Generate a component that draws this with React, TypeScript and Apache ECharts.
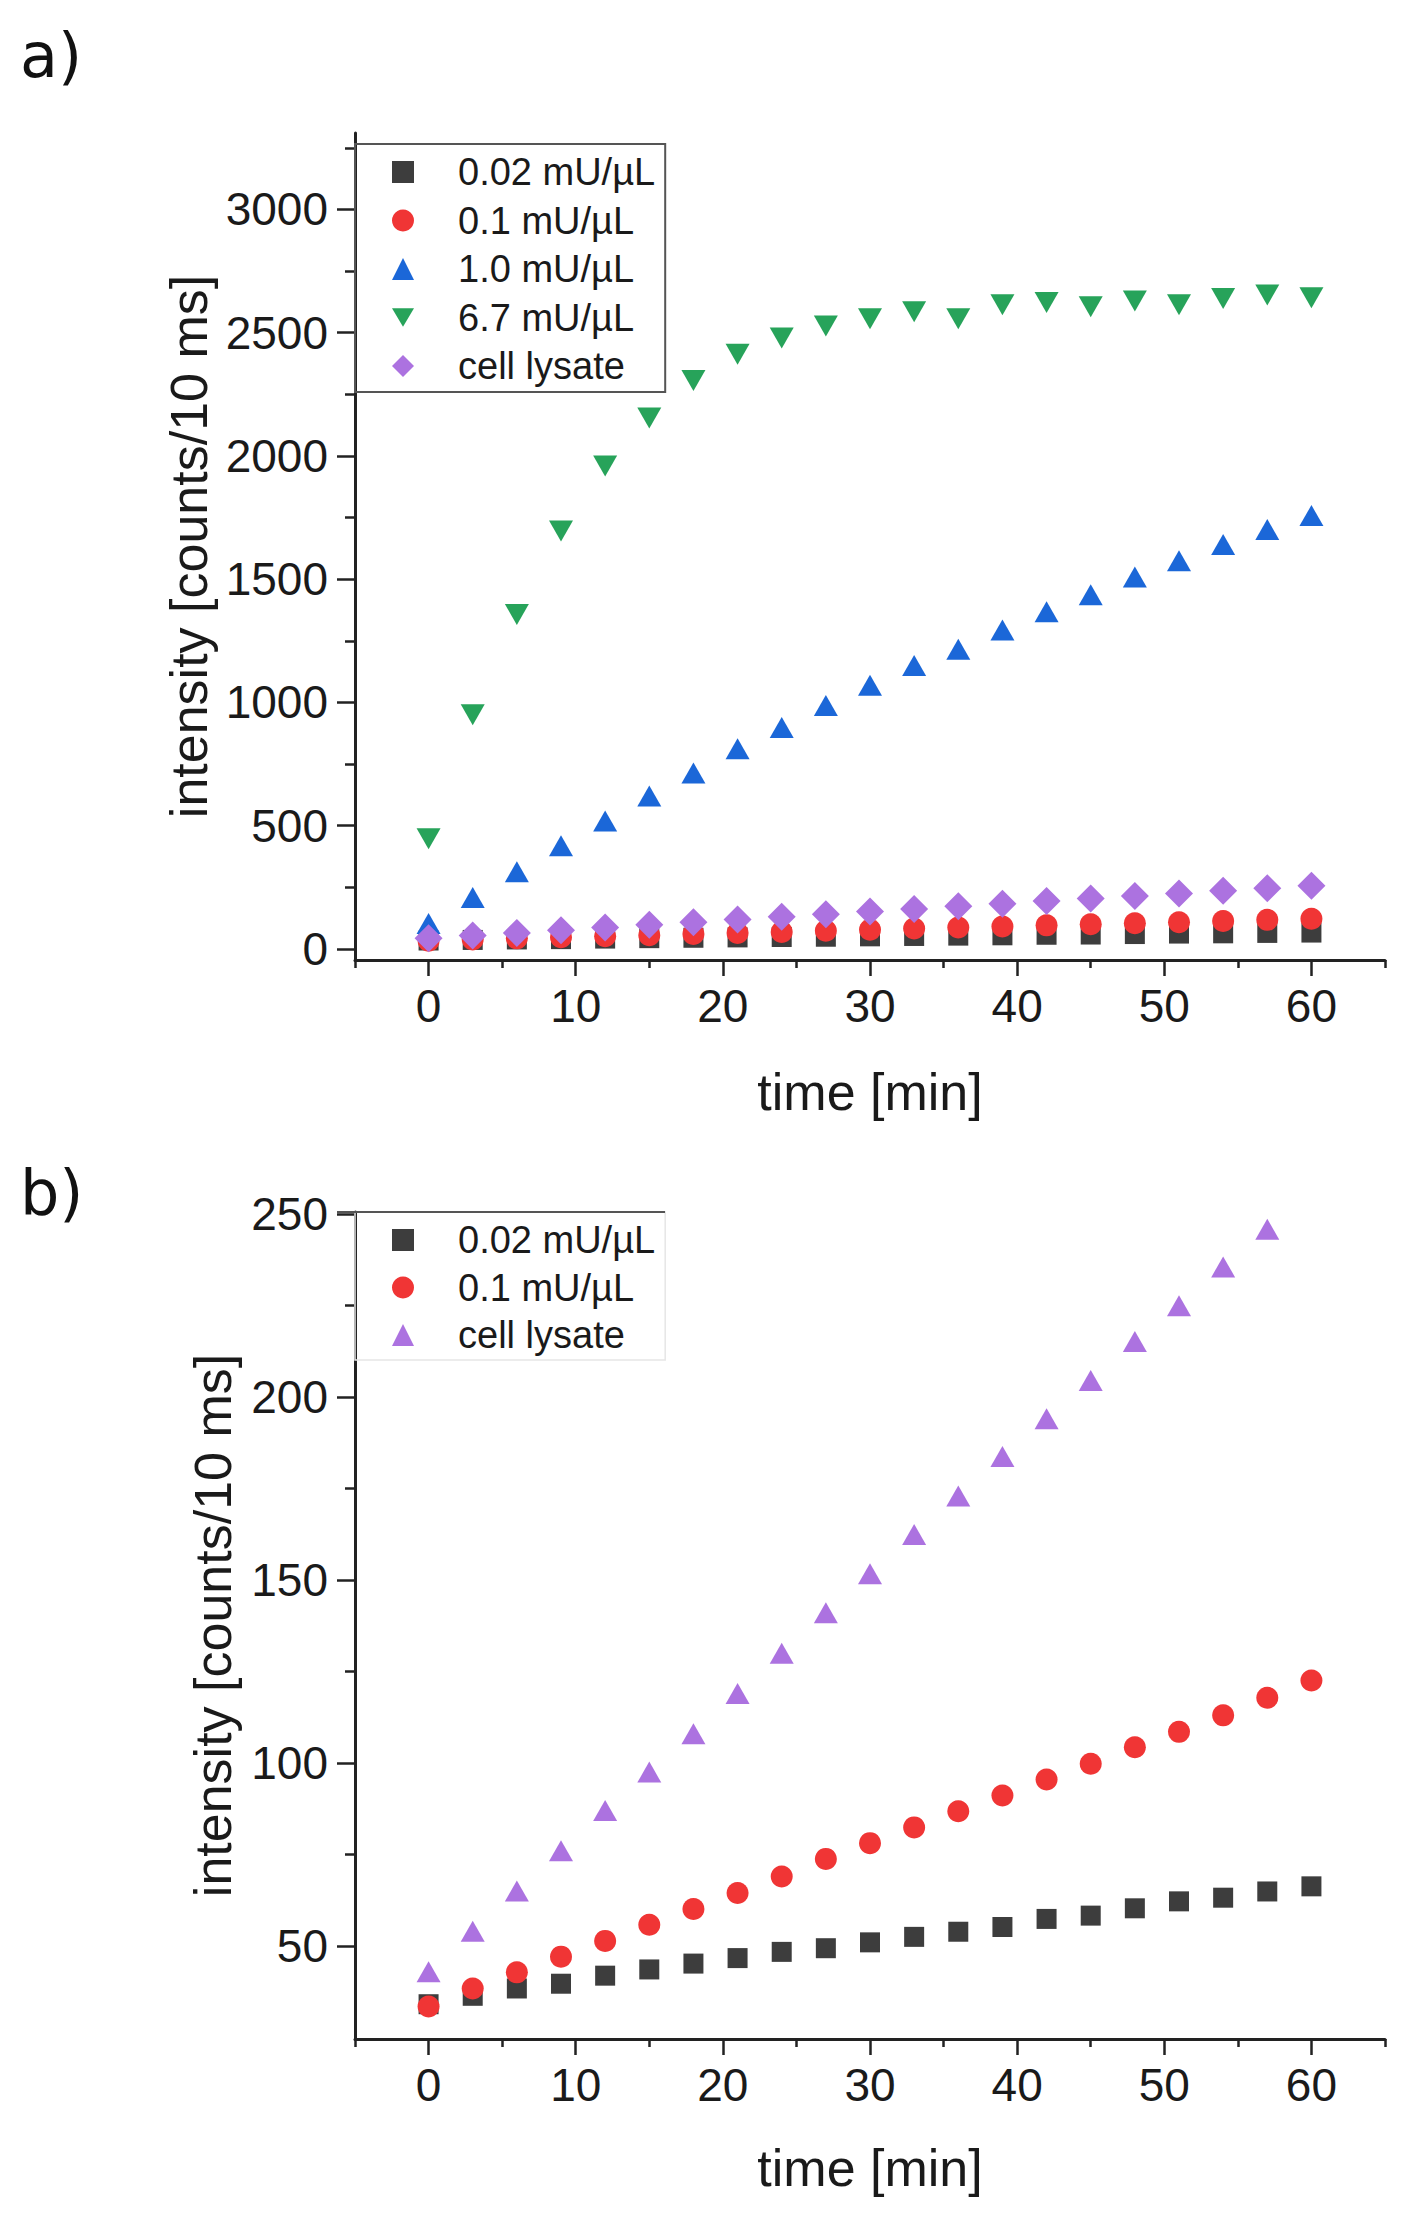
import { useEffect, useRef } from "react";
import * as echarts from "echarts";

// time points [min]
const time = [0, 3, 6, 9, 12, 15, 18, 21, 24, 27, 30, 33, 36, 39, 42, 45, 48, 51, 54, 57, 60];

// intensity [counts/10 ms]
const conc002 = [34.1, 36.4, 38.4, 39.7, 41.9, 43.6, 45.2, 46.7, 48.4, 49.4, 51, 52.5, 53.9, 55.2, 57.4, 58.3, 60.3, 62.2, 63.2, 64.9, 66.3];
const conc01 = [33.5, 38.4, 42.8, 47.1, 51.4, 55.8, 60.1, 64.5, 69, 73.8, 78.1, 82.4, 86.8, 91.1, 95.5, 99.8, 104.3, 108.5, 113, 117.8, 122.5];
const conc10 = [103, 209, 313, 419, 519, 620, 714, 812, 898, 987, 1070, 1150, 1216, 1294, 1368, 1437, 1509, 1575, 1641, 1701, 1758];
const conc67 = [447, 950, 1357, 1695, 1959, 2154, 2306, 2412, 2478, 2527, 2556, 2585, 2556, 2613, 2622, 2605, 2628, 2613, 2639, 2653, 2642];
const lysate = [43, 54, 65, 76, 87, 97.5, 108, 119, 130, 141, 151.7, 162.4, 172.9, 183.7, 194, 204.5, 215.1, 224.9, 235.5, 245.8, 256];

const names = ["0.02 mU/µL", "0.1 mU/µL", "1.0 mU/µL", "6.7 mU/µL", "cell lysate"];
const colors = ["#3d3d3d", "#f03535", "#1b67d8", "#27a35a", "#ac72e0"];

const xMajor = [0, 10, 20, 30, 40, 50, 60];
const xMinor = [-5, 5, 15, 25, 35, 45, 55, 65];
const yMajorA = [0, 500, 1000, 1500, 2000, 2500, 3000];
const yMinorA = [250, 750, 1250, 1750, 2250, 2750, 3250];
const yMajorB = [50, 100, 150, 200, 250];
const yMinorB = [75, 125, 175, 225];

const FONT = "Liberation Sans";
const INK = "#1a1a1a";
const AXIS = "#222";
const DOWN_TRI = "path://M0,0L20,0L10,17Z";

const pairs = (vals: number[]) => time.map((t, i) => [t, vals[i]]);

function mainX(gridIndex: number, nameGap: number) {
  return {
    type: "value",
    gridIndex,
    min: -5,
    max: 65,
    position: "bottom",
    name: "time [min]",
    nameLocation: "middle",
    nameGap,
    nameTextStyle: { fontSize: 52, fontFamily: FONT, color: INK },
    axisLine: { onZero: false, lineStyle: { color: AXIS, width: 3 } },
    axisTick: { customValues: xMajor, length: 16, lineStyle: { color: AXIS, width: 2.5 } },
    axisLabel: {
      customValues: xMajor,
      margin: 23,
      fontSize: 46,
      fontFamily: FONT,
      color: INK,
      formatter: (v: number) => String(v),
    },
    splitLine: { show: false },
  };
}

function minorX(gridIndex: number) {
  return {
    type: "value",
    gridIndex,
    min: -5,
    max: 65,
    position: "bottom",
    axisLine: { show: false, onZero: false },
    axisTick: { customValues: xMinor, length: 8, lineStyle: { color: AXIS, width: 2.5 } },
    axisLabel: { show: false },
    splitLine: { show: false },
  };
}

function mainY(gridIndex: number, min: number, max: number, ticks: number[], nameGap: number) {
  return {
    type: "value",
    gridIndex,
    min,
    max,
    position: "left",
    name: "intensity [counts/10 ms]",
    nameLocation: "middle",
    nameGap,
    nameTextStyle: { fontSize: 52, fontFamily: FONT, color: INK },
    axisLine: { onZero: false, lineStyle: { color: AXIS, width: 3 } },
    axisTick: { customValues: ticks, length: 18, lineStyle: { color: AXIS, width: 2.5 } },
    axisLabel: {
      customValues: ticks,
      margin: 27,
      fontSize: 46,
      fontFamily: FONT,
      color: INK,
      formatter: (v: number) => String(v),
    },
    splitLine: { show: false },
  };
}

function minorY(gridIndex: number, min: number, max: number, ticks: number[]) {
  return {
    type: "value",
    gridIndex,
    min,
    max,
    position: "left",
    axisLine: { show: false, onZero: false },
    axisTick: { customValues: ticks, length: 10, lineStyle: { color: AXIS, width: 2.5 } },
    axisLabel: { show: false },
    splitLine: { show: false },
  };
}

function scatter(i: number, vals: number[], axis: number, symbol: string, size: number | number[]) {
  return {
    type: "scatter",
    name: names[i],
    xAxisIndex: axis,
    yAxisIndex: axis,
    symbol,
    symbolSize: size,
    itemStyle: { color: colors[i], opacity: 1 },
    data: pairs(vals),
  };
}

const legendText = {
  fontSize: 38,
  fontFamily: FONT,
  color: INK,
  lineHeight: 40,
  padding: [0, 0, 0, 39],
};

export default function App() {
  const chartRef = useRef<HTMLDivElement>(null);

  useEffect(() => {
    if (!chartRef.current) return;
    document.body.style.margin = "0";
    const chart = echarts.init(chartRef.current, undefined, { renderer: "svg" });

    const option = {
      animation: false,
      backgroundColor: "#fff",
      grid: [
        { left: 355, top: 133, width: 1030, height: 827 },
        { left: 355, top: 1212, width: 1030, height: 827 },
      ],
      xAxis: [mainX(0, 106), minorX(0), mainX(1, 103), minorX(1)],
      yAxis: [
        mainY(0, -45, 3310, yMajorA, 139),
        minorY(0, -45, 3310, yMinorA),
        mainY(1, 24.6, 250.5, yMajorB, 116),
        minorY(1, 24.6, 250.5, yMinorB),
      ],
      legend: [
        {
          orient: "vertical",
          left: 355,
          top: 144,
          padding: [8, 10, 6, 37],
          itemGap: 8.5,
          itemWidth: 22,
          itemHeight: 22,
          borderColor: "#555",
          borderWidth: 2,
          textStyle: legendText,
          data: [
            { name: names[0], icon: "rect" },
            { name: names[1], icon: "circle" },
            { name: names[2], icon: "triangle" },
            { name: names[3], icon: DOWN_TRI },
            { name: names[4], icon: "diamond" },
          ],
        },
        {
          orient: "vertical",
          left: 355,
          top: 1212,
          padding: [8, 10, 5, 37],
          itemGap: 7.5,
          itemWidth: 22,
          itemHeight: 22,
          borderColor: "#e6e6e6",
          borderWidth: 1.5,
          textStyle: legendText,
          data: [
            { name: names[0], icon: "rect" },
            { name: names[1], icon: "circle" },
            { name: names[4], icon: "triangle" },
          ],
        },
      ],
      graphic: [
        { type: "text", left: 20, top: 24, style: { text: "a)", fontSize: 62, fontFamily: "DejaVu Sans", fill: "#111" } },
        { type: "text", left: 20, top: 1161, style: { text: "b)", fontSize: 62, fontFamily: "DejaVu Sans", fill: "#111" } },
        { type: "line", shape: { x1: 337, y1: 1212, x2: 665, y2: 1212 }, style: { stroke: "#555", lineWidth: 2 }, z: 10 },
      ],
      series: [
        scatter(0, conc002, 0, "rect", 20),
        scatter(1, conc01, 0, "circle", 22),
        scatter(2, conc10, 0, "triangle", [24, 21]),
        scatter(3, conc67, 0, DOWN_TRI, [24, 21]),
        scatter(4, lysate, 0, "diamond", 28),
        scatter(0, conc002, 2, "rect", 20),
        scatter(1, conc01, 2, "circle", 22),
        scatter(4, lysate, 2, "triangle", [24, 21]),
      ],
    };

    chart.setOption(option as echarts.EChartsOption);

    return () => {
      chart.dispose();
    };
  }, []);

  return <div ref={chartRef} style={{ width: "1420px", height: "2220px" }} />;
}
